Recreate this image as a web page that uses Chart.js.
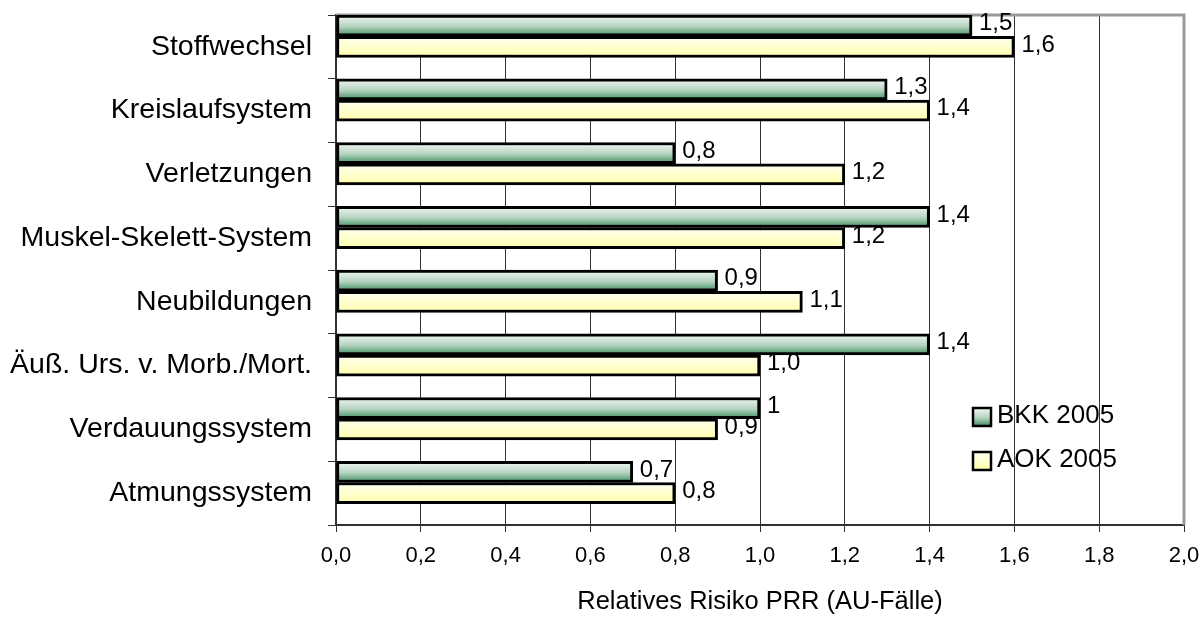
<!DOCTYPE html>
<html>
<head>
<meta charset="utf-8">
<script src="https://cdn.jsdelivr.net/npm/chart.js@4"></script>
<style>
  body { margin: 0; background: #fff; }
</style>
</head>
<body>
<canvas id="chart" width="1202" height="617"></canvas>
<script>
"use strict";
const categories = [
  "Stoffwechsel",
  "Kreislaufsystem",
  "Verletzungen",
  "Muskel-Skelett-System",
  "Neubildungen",
  "Äuß. Urs. v. Morb./Mort.",
  "Verdauungssystem",
  "Atmungssystem",
];
const seriesNames = ["BKK 2005", "AOK 2005"];
const bkkValues = [1.5, 1.3, 0.8, 1.4, 0.9, 1.4, 1.0, 0.7];
const aokValues = [1.6, 1.4, 1.2, 1.2, 1.1, 1.0, 0.9, 0.8];
const bkkLabels = ["1,5", "1,3", "0,8", "1,4", "0,9", "1,4", "1", "0,7"];
const aokLabels = ["1,6", "1,4", "1,2", "1,2", "1,1", "1,0", "0,9", "0,8"];
const axisTitle = "Relatives Risiko PRR (AU-Fälle)";

const FONT = "'Liberation Sans', Arial, sans-serif";

function greenGrad(ctx, top, bottom) {
  const g = ctx.createLinearGradient(0, top, 0, bottom);
  g.addColorStop(0, "#f5f8f6");
  g.addColorStop(0.55, "#b3d3bf");
  g.addColorStop(1, "#3d8c5e");
  return g;
}
function yellowGrad(ctx, top, bottom) {
  const g = ctx.createLinearGradient(0, top, 0, bottom);
  g.addColorStop(0, "#fffff2");
  g.addColorStop(1, "#ffffaa");
  return g;
}
const grads = [greenGrad, yellowGrad];

// gradient fill per bar, based on where the library put it
const gradientFill = {
  id: "gradientFill",
  beforeDatasetsDraw(chart) {
    const ctx = chart.ctx;
    [0, 1].forEach((di) => {
      chart.getDatasetMeta(di).data.forEach((el) => {
        const top = el.y - el.height / 2;
        const bottom = el.y + el.height / 2;
        el.options = Object.assign({}, el.options, {
          backgroundColor: grads[di](ctx, top, bottom),
        });
      });
    });
  },
};

const frame = {
  id: "frame",
  beforeDatasetsDraw(chart) {
    const { ctx, chartArea } = chart;
    ctx.save();
    ctx.strokeStyle = "#999";
    ctx.lineWidth = 3;
    ctx.beginPath();
    ctx.moveTo(chartArea.left, chartArea.top);
    ctx.lineTo(chartArea.right, chartArea.top);
    ctx.lineTo(chartArea.right, chartArea.bottom);
    ctx.stroke();
    ctx.restore();
  },
};

const valueLabels = {
  id: "valueLabels",
  afterDatasetsDraw(chart) {
    const ctx = chart.ctx;
    const texts = [bkkLabels, aokLabels];
    ctx.save();
    ctx.font = "24px " + FONT;
    ctx.fillStyle = "#000";
    ctx.textAlign = "left";
    ctx.textBaseline = "middle";
    [0, 1].forEach((di) => {
      chart.getDatasetMeta(di).data.forEach((el, i) => {
        ctx.fillText(texts[di][i], el.x + 7, el.y - 2);
      });
    });
    ctx.restore();
  },
};

const innerLegend = {
  id: "innerLegend",
  afterDraw(chart) {
    const { ctx, chartArea } = chart;
    const x = chartArea.right - 211;
    const y0 = chartArea.top + 393;
    ctx.save();
    ctx.font = "26px " + FONT;
    ctx.textAlign = "left";
    ctx.textBaseline = "middle";
    seriesNames.forEach((name, i) => {
      const y = y0 + i * 44;
      ctx.fillStyle = grads[i](ctx, y, y + 18);
      ctx.fillRect(x, y, 18, 18);
      ctx.strokeStyle = "#000";
      ctx.lineWidth = 2.5;
      ctx.strokeRect(x, y, 18, 18);
      ctx.fillStyle = "#000";
      ctx.fillText(name, x + 24, y + 8);
    });
    ctx.restore();
  },
};

const data = {
  labels: categories,
  datasets: [
    {
      label: seriesNames[0],
      data: bkkValues,
      backgroundColor: "#7fb397",
      borderColor: "#000",
      borderWidth: 3,
      borderSkipped: false,
    },
    {
      label: seriesNames[1],
      data: aokValues,
      backgroundColor: "#ffffc8",
      borderColor: "#000",
      borderWidth: 3,
      borderSkipped: false,
    },
    {
      // empty slot so the pair sits at the top of each band
      label: "",
      data: categories.map(() => null),
    },
  ],
};

const config = {
  type: "bar",
  data: data,
  options: {
    indexAxis: "y",
    responsive: false,
    animation: false,
    devicePixelRatio: 1,
    categoryPercentage: 1,
    barPercentage: 1,
    layout: { padding: { top: 15, right: 18, left: 0, bottom: 0 } },
    plugins: {
      legend: { display: false },
      tooltip: { enabled: false },
    },
    scales: {
      x: {
        min: 0,
        max: 2,
        afterFit(scale) {
          scale.height = 92;
          scale.paddingLeft = 0;
          scale.paddingRight = 0;
        },
        ticks: {
          stepSize: 0.2,
          maxRotation: 0,
          autoSkip: false,
          padding: 11,
          color: "#000",
          font: { family: FONT, size: 22 },
          callback: (v) => Number(v).toFixed(1).replace(".", ","),
        },
        grid: {
          color: (c) =>
            c.tick && Math.abs(c.tick.value - 2) < 1e-6 ? "rgba(0,0,0,0)" : "#333",
          tickColor: "#333",
          lineWidth: 1,
          tickLength: 7,
        },
        border: { color: "#333", width: 2 },
        title: {
          display: true,
          text: axisTitle,
          color: "#000",
          font: { family: FONT, size: 25.5 },
          padding: { top: 0, bottom: 0 },
        },
      },
      y: {
        afterFit(scale) {
          scale.width = 336;
          scale.paddingTop = 0;
          scale.paddingBottom = 0;
        },
        ticks: {
          color: "#000",
          padding: 16,
          font: { family: FONT, size: 28.5 },
          autoSkip: false,
        },
        grid: {
          offset: true,
          drawOnChartArea: false,
          tickLength: 8,
          color: "#333",
        },
        border: { color: "#333", width: 2 },
      },
    },
  },
  plugins: [gradientFill, frame, valueLabels, innerLegend],
};

const myChart = new Chart(document.getElementById("chart").getContext("2d"), config);
</script>
</body>
</html>
